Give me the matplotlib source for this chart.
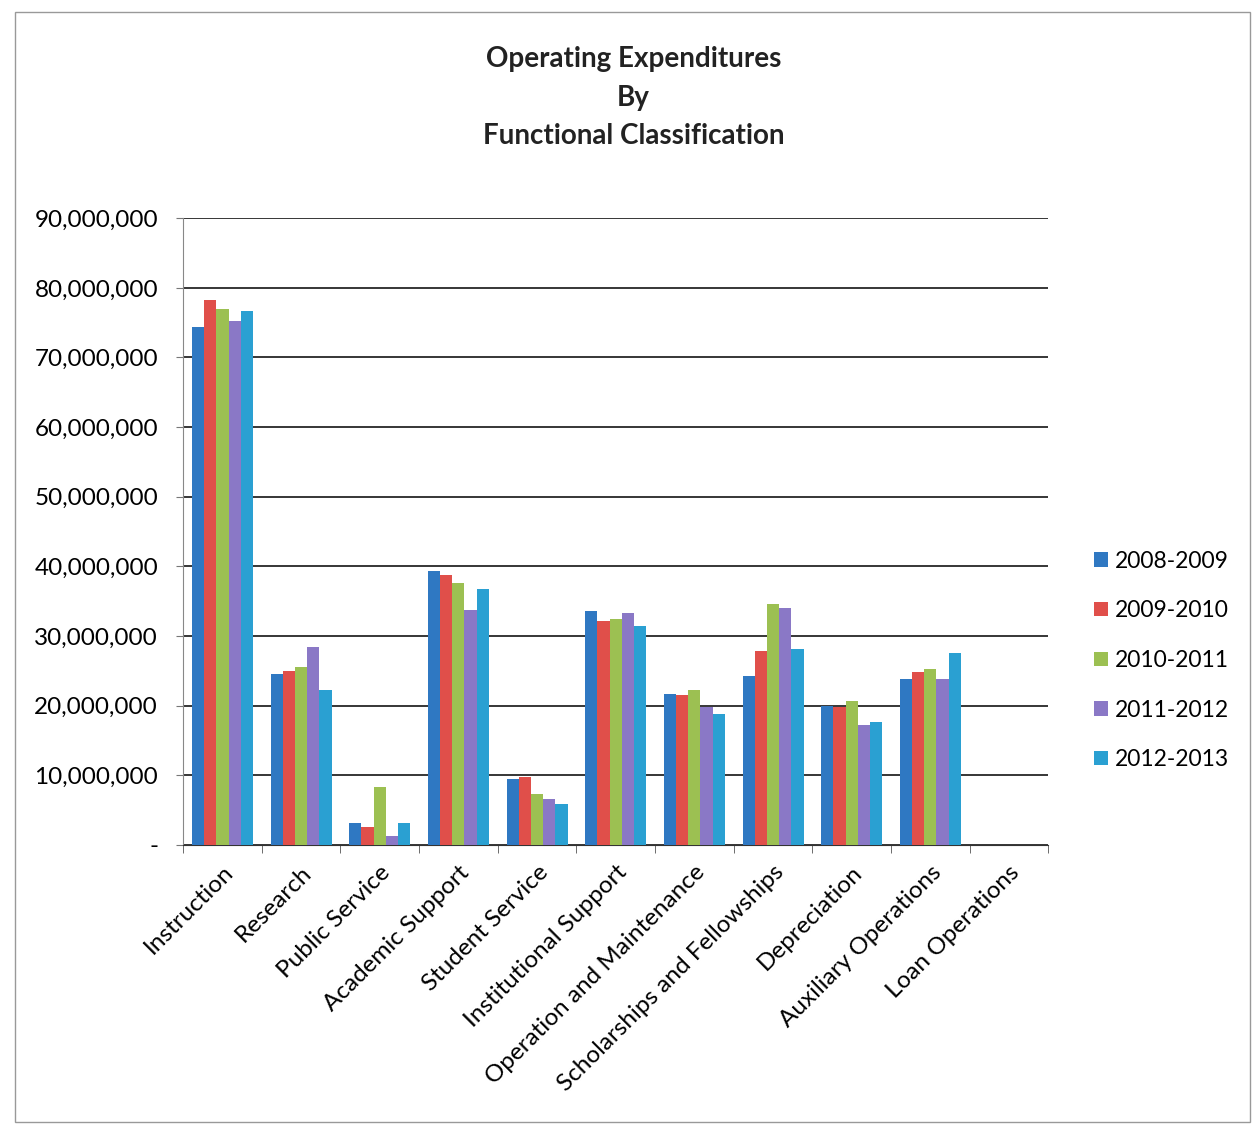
import numpy as np
import matplotlib.pyplot as plt
from matplotlib.patches import Rectangle
from matplotlib.ticker import FuncFormatter

plt.rcParams['font.family'] = ['Lato', 'DejaVu Sans']

categories = ['Instruction', 'Research', 'Public Service', 'Academic Support',
              'Student Service', 'Institutional Support', 'Operation and Maintenance',
              'Scholarships and Fellowships', 'Depreciation', 'Auxiliary Operations',
              'Loan Operations']
years = ['2008-2009', '2009-2010', '2010-2011', '2011-2012', '2012-2013']

fy2009 = [74.4e6, 24.6e6, 3.1e6, 39.4e6, 9.4e6, 33.6e6, 21.6e6, 24.2e6, 20.0e6, 23.8e6, 0]
fy2010 = [78.3e6, 25.0e6, 2.6e6, 38.8e6, 9.8e6, 32.2e6, 21.5e6, 27.9e6, 19.8e6, 24.9e6, 0]
fy2011 = [77.0e6, 25.6e6, 8.3e6, 37.6e6, 7.3e6, 32.4e6, 22.3e6, 34.6e6, 20.6e6, 25.2e6, 0]
fy2012 = [75.3e6, 28.4e6, 1.3e6, 33.8e6, 6.6e6, 33.3e6, 19.8e6, 34.0e6, 17.2e6, 23.8e6, 0]
fy2013 = [76.7e6, 22.3e6, 3.1e6, 36.8e6, 5.8e6, 31.5e6, 18.8e6, 28.2e6, 17.7e6, 27.6e6, 0]

series = [fy2009, fy2010, fy2011, fy2012, fy2013]
colors = ['#2f78c2', '#e04f4a', '#9cc052', '#8a78c6', '#2aa0d2']

fig = plt.figure(figsize=(12.54, 11.25), dpi=100)
ax = fig.add_axes([0.146, 0.249, 0.69, 0.557])

x = np.arange(len(categories))
bw = 0.155
for i, (vals, col, lab) in enumerate(zip(series, colors, years)):
    ax.bar(x + (i - 2) * bw, vals, bw, color=col, label=lab, zorder=3)

ax.set_xlim(-0.5, len(categories) - 0.5)
ax.set_ylim(0, 90e6)
ax.set_yticks(np.arange(0, 90e6 + 1, 10e6))
ax.yaxis.set_major_formatter(FuncFormatter(lambda v, p: '-' if v == 0 else f'{v:,.0f}'))
ax.grid(axis='y', color='black', lw=1.1, zorder=0)

ax.set_xticks(x)
ax.set_xticklabels(categories, rotation=45, ha='right', rotation_mode='anchor', fontsize=17.5)
ax.tick_params(axis='x', length=0, pad=12)
ax.set_xticks(np.arange(-0.5, len(categories), 1), minor=True)
ax.tick_params(axis='x', which='minor', length=6, color='#555555', direction='out')
ax.tick_params(axis='y', labelsize=17.5, length=5, color='#777777', pad=13)

for s in ['top', 'right']:
    ax.spines[s].set_visible(False)
ax.spines['left'].set_color('#888888')
ax.spines['bottom'].set_color('#333333')

title_lines = ['Operating Expenditures', 'By', 'Functional Classification']
for line, ty in zip(title_lines, [0.948, 0.913, 0.879]):
    fig.text(0.505, ty, line, ha='center', va='center',
             fontsize=20, fontweight='bold', color='#222222')

ax.legend(loc='center left', bbox_to_anchor=(0.856, 0.413), bbox_transform=fig.transFigure,
          frameon=False, fontsize=16.5, handlelength=0.6, handleheight=0.6,
          handletextpad=0.3, labelspacing=1.25)

fig.patches.append(Rectangle((0.012, 0.003), 0.985, 0.986, transform=fig.transFigure,
                             fill=False, edgecolor='#999999', lw=1.0))

fig.savefig('out.png', dpi=100)
